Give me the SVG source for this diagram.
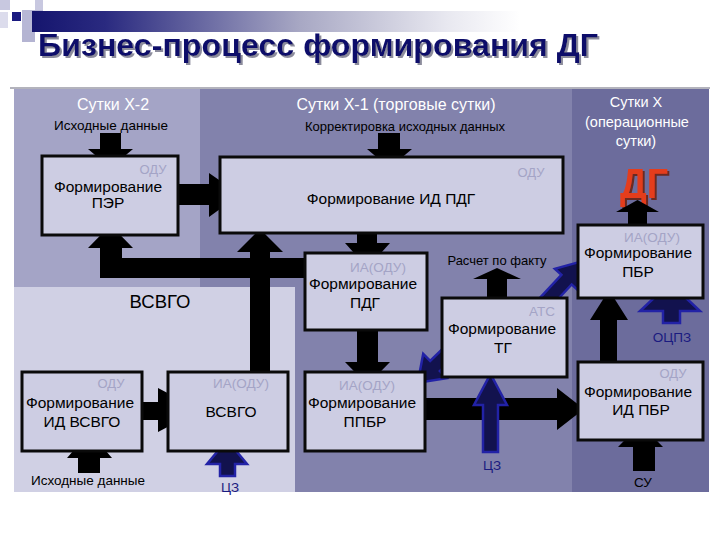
<svg xmlns="http://www.w3.org/2000/svg" width="720" height="540" viewBox="0 0 720 540">
<defs>
<linearGradient id="bar" x1="0" y1="0" x2="1" y2="0">
<stop offset="0" stop-color="#15156e"/>
<stop offset="0.15" stop-color="#2a2a80"/>
<stop offset="0.55" stop-color="#a8a8c4"/>
<stop offset="0.85" stop-color="#e8e8f0"/>
<stop offset="1" stop-color="#ffffff"/>
</linearGradient>
<filter id="sh" x="-5%" y="-20%" width="110%" height="140%">
<feOffset in="SourceAlpha" dx="2" dy="2" result="o"/>
<feFlood flood-color="#8c8c9c"/>
<feComposite in2="o" operator="in" result="s"/>
<feMerge><feMergeNode in="s"/><feMergeNode in="SourceGraphic"/></feMerge>
</filter>
<filter id="shr" x="-20%" y="-20%" width="140%" height="140%">
<feOffset in="SourceAlpha" dx="2" dy="2" result="o"/>
<feFlood flood-color="#6a2a20"/>
<feComposite in2="o" operator="in" result="s"/>
<feMerge><feMergeNode in="s"/><feMergeNode in="SourceGraphic"/></feMerge>
</filter>
<style>
text{font-family:"Liberation Sans",Arial,sans-serif}
.box{fill:#cdcde3;stroke:#0a0a0a;stroke-width:3}
.bt{font-size:15.5px;fill:#000;text-anchor:middle}
.lt{font-size:13.5px;fill:#a4a4c6;text-anchor:middle}
.wt{fill:#fff;text-anchor:middle}
.lb{fill:#000;text-anchor:middle;font-size:13.5px}
.nv{fill:#1a1a80;text-anchor:middle;font-size:13.5px}
.ka{fill:#000}
.ba{fill:#12124e;stroke:#2222a6;stroke-width:2.5}
</style>
</defs>
<rect width="720" height="540" fill="#fff"/>
<g id="decor">
<rect x="0" y="0" width="10" height="10" fill="#c8c8e0"/>
<rect x="35" y="0" width="8" height="10" fill="#c8c8e0"/>
<rect x="0" y="12" width="8" height="16" fill="#dcdcec"/>
<rect x="22" y="10" width="21" height="20" fill="#b8b8d6"/>
<rect x="22" y="30" width="13" height="12" fill="#b4b4d2"/>
<rect x="32" y="11" width="488" height="21" fill="url(#bar)"/>
<rect x="12" y="12" width="9" height="9" fill="#1a1a80"/>
<line x1="10" y1="88" x2="710" y2="88" stroke="#9a9aa6" stroke-width="1.5"/>
<text x="38" y="56" font-size="31" font-weight="bold" fill="#0c0c6a" textLength="560" lengthAdjust="spacingAndGlyphs" filter="url(#sh)">Бизнес-процесс формирования ДГ</text>
</g>
<g id="panels">
<rect x="200" y="89" width="372" height="403" fill="#8282ac"/>
<rect x="572" y="89" width="137" height="403" fill="#6c6c9c"/>
<rect x="14" y="89" width="186" height="198" fill="#a4a4c6"/>
<rect x="14" y="287" width="281" height="205" fill="#d0d0e4"/>
<text class="wt" x="113" y="110" style="font-size:16px">Сутки Х-2</text>
<text class="wt" x="396" y="110" style="font-size:16px">Сутки Х-1 (торговые сутки)</text>
<text class="wt" x="636" y="107" style="font-size:14.5px">Сутки Х</text>
<text class="wt" x="637" y="127" style="font-size:14.5px">(операционные</text>
<text class="wt" x="636" y="146" style="font-size:14.5px">сутки)</text>
<text class="lb" x="111" y="130">Исходные данные</text>
<text class="lb" x="405" y="131" style="font-size:13px">Корректировка исходных данных</text>
<text class="lb" x="497" y="265" style="font-size:13px">Расчет по факту</text>
<text class="lb" x="160" y="308" style="font-size:18.5px">ВСВГО</text>
<text class="lb" x="88" y="485">Исходные данные</text>
<text class="lb" x="643" y="487">СУ</text>
<text class="nv" x="672" y="342">ОЦПЗ</text>
<text class="nv" x="230" y="492">ЦЗ</text>
<text class="nv" x="492" y="470">ЦЗ</text>
<text x="644" y="198" font-size="42" font-weight="bold" fill="#e43c1e" text-anchor="middle" textLength="48" lengthAdjust="spacingAndGlyphs" filter="url(#shr)">ДГ</text>
</g>
<g id="connectors">
<path class="ka" d="M100,133 H121 V149 H133 L110.5,168 L88,149 H100 Z"/>
<path class="ka" d="M378,133 H400 V149 H412 L389.5,168 L367,149 H378 Z"/>
<path class="ka" d="M170,184 H209 V173 L240,194.5 L209,217 V205 H170 Z"/>
<path class="ka" d="M357,225 H377 V243 H390 L367.5,268 L345,243 H357 Z"/>
<path class="ka" d="M357,325 H378 V362 H390 L367.5,385 L345,362 H357 Z"/>
<path class="ka" d="M320,258 H122 V248 H133 L110.5,225 L88,248 H100 V278 H320 Z"/>
<path class="ka" d="M250,380 V252 H237 L260,229 L283,252 H270 V380 Z"/>
<path class="ka" d="M135,402 H158 V388 L200,410 L158,432 V420 H135 Z"/>
<path class="ka" d="M420,398 H557 V388 L584,409 L557,430 V420 H420 Z"/>
<path class="ka" d="M600,365 V320 H590 L609,290 L628,320 H617 V365 Z"/>
<path class="ka" d="M628,230 V212 H616 L637.5,200 L659,212 H647 V230 Z"/>
<path class="ka" d="M487,305 V279 H473 L497,268 L521,279 H507 V305 Z"/>
<path class="ka" d="M78,473 V458 H67 L89.5,432 L112,458 H100 V473 Z"/>
<path class="ka" d="M633,471 V447 H618 L640.5,424 L663,447 H655 V471 Z"/>
<path class="ba" d="M220,476 V464 H207 L227,440 L247,464 H235 V476 Z"/>
<path class="ba" d="M483,452 V405 H474 L490.5,374 L507,405 H498 V452 Z"/>
<path class="ba" d="M663,323 V311 H640 L670,283 L700,311 H680 V323 Z"/>
<path class="ba" transform="translate(542,306) rotate(-47)" d="M0,-7 H36 V-16 L62,0 L36,16 V7 H0 Z"/>
<path class="ba" transform="translate(435,366) rotate(136)" d="M-34,-7 H0 V-17 L24,0 L0,17 V7 H-34 Z"/>
</g>
<g id="node-per">
<rect class="box" x="42" y="156" width="136" height="79"/>
<text class="lt" x="153" y="174" style="font-size:13px">ОДУ</text>
<text class="bt" x="108" y="192">Формирование</text>
<text class="bt" x="108" y="208">ПЭР</text>
</g>
<g id="node-id-pdg">
<rect class="box" x="220" y="157" width="343" height="76"/>
<text class="lt" x="531" y="177" style="font-size:13px">ОДУ</text>
<text class="bt" x="391" y="204">Формирование ИД ПДГ</text>
</g>
<g id="node-pbr">
<rect class="box" x="578" y="225" width="125" height="73"/>
<text class="lt" x="652" y="242">ИА(ОДУ)</text>
<text class="bt" x="638" y="258">Формирование</text>
<text class="bt" x="638" y="277">ПБР</text>
</g>
<g id="node-pdg">
<rect class="box" x="305" y="253" width="122" height="77"/>
<text class="lt" x="378" y="272">ИА(ОДУ)</text>
<text class="bt" x="363" y="289">Формирование</text>
<text class="bt" x="365" y="308">ПДГ</text>
</g>
<g id="node-tg">
<rect class="box" x="442" y="298" width="125" height="79"/>
<text class="lt" x="542" y="316">АТС</text>
<text class="bt" x="502" y="334">Формирование</text>
<text class="bt" x="503" y="353">ТГ</text>
</g>
<g id="node-id-vsvgo">
<rect class="box" x="22" y="372" width="120" height="79"/>
<text class="lt" x="111" y="388" style="font-size:13px">ОДУ</text>
<text class="bt" x="80" y="408">Формирование</text>
<text class="bt" x="82" y="427">ИД ВСВГО</text>
</g>
<g id="node-vsvgo">
<rect class="box" x="168" y="372" width="120" height="79"/>
<text class="lt" x="241" y="388">ИА(ОДУ)</text>
<text class="bt" x="231" y="417">ВСВГО</text>
</g>
<g id="node-ppbr">
<rect class="box" x="305" y="372" width="120" height="79"/>
<text class="lt" x="367" y="390">ИА(ОДУ)</text>
<text class="bt" x="362" y="408">Формирование</text>
<text class="bt" x="365" y="427">ППБР</text>
</g>
<g id="node-id-pbr">
<rect class="box" x="578" y="362" width="125" height="78"/>
<text class="lt" x="673" y="378" style="font-size:13px">ОДУ</text>
<text class="bt" x="638" y="397">Формирование</text>
<text class="bt" x="641" y="415">ИД ПБР</text>
</g>
</svg>
